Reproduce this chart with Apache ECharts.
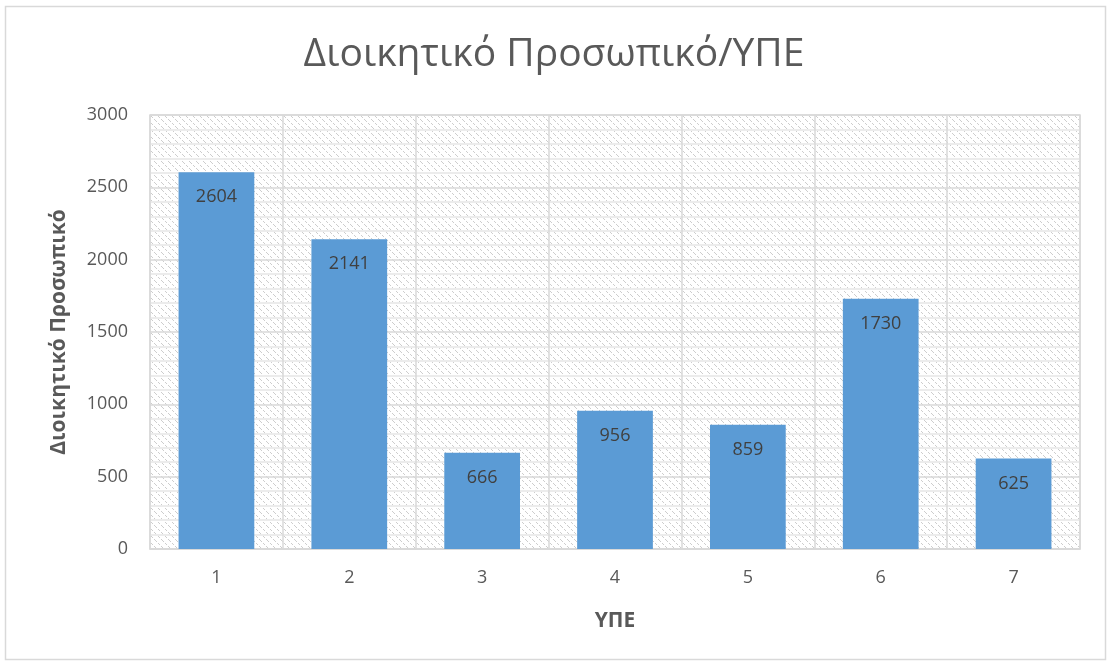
<!DOCTYPE html>
<html>
<head>
<meta charset="utf-8">
<script src="https://cdn.jsdelivr.net/npm/echarts@6/dist/echarts.min.js"></script>
<style>
  * { margin: 0; padding: 0; }
  body { background: #fff; }
</style>
</head>
<body>
<div id="main" style="width: 1108px; height: 663px;"></div>
<script>
// data
var categories = ['1', '2', '3', '4', '5', '6', '7'];
var staff = [2604, 2141, 666, 956, 859, 1730, 625];

// dotted diagonal hatch for the plot background
function hatch() {
  var c = document.createElement('canvas');
  c.width = 7; c.height = 7;
  var ctx = c.getContext('2d');
  ctx.fillStyle = '#ffffff';
  ctx.fillRect(0, 0, 7, 7);
  ctx.fillStyle = '#cdcdcd';
  for (var i = 0; i < 7; i++) {
    if (i === 3 || i === 6) continue;
    ctx.fillRect(i, i, 1, 1);
  }
  return c;
}

var chart = echarts.init(document.getElementById('main'));
var font = '"Open Sans", "Liberation Sans", sans-serif';
chart.setOption({
  animation: false,
  textStyle: { fontFamily: font },
  title: {
    text: 'Διοικητικό Προσωπικό/ΥΠΕ',
    left: 'center',
    top: 30,
    textStyle: { fontSize: 39, fontWeight: 'normal', color: '#595959', fontFamily: font }
  },
  graphic: [{
    type: 'rect',
    shape: { x: 5.5, y: 6.5, width: 1100, height: 653 },
    style: { fill: 'none', stroke: '#d9d9d9', lineWidth: 1.5 },
    silent: true
  }],
  grid: {
    left: 150, right: 28, top: 115, bottom: 114,
    show: true,
    backgroundColor: { image: hatch(), repeat: 'repeat' },
    borderColor: '#d9d9d9',
    borderWidth: 1.5
  },
  xAxis: {
    type: 'category',
    data: categories,
    name: 'ΥΠΕ',
    nameLocation: 'middle',
    nameGap: 62,
    nameTextStyle: { fontSize: 21, fontWeight: 'bold', color: '#595959' },
    axisLine: { lineStyle: { color: '#d9d9d9', width: 1.5 } },
    axisTick: { show: false },
    axisLabel: { fontSize: 18, color: '#595959', margin: 20 },
    splitLine: { show: true, lineStyle: { color: '#d9d9d9', width: 1.5 } }
  },
  yAxis: {
    type: 'value',
    min: 0, max: 3000, interval: 500,
    name: 'Διοικητικό Προσωπικό',
    nameLocation: 'middle',
    nameGap: 80,
    nameTextStyle: { fontSize: 21, fontWeight: 'bold', color: '#595959' },
    axisLine: { show: false },
    axisTick: { show: false },
    axisLabel: {
      fontSize: 18, color: '#595959', margin: 22,
      formatter: function (v) { return String(v); }
    },
    splitLine: { lineStyle: { color: '#d9d9d9', width: 1.5 } },
    minorTick: { show: false, splitNumber: 5 },
    minorSplitLine: { show: true, lineStyle: { color: '#ececec', width: 2 } }
  },
  series: [{
    type: 'bar',
    data: staff,
    barCategoryGap: '43%',
    itemStyle: { color: '#5b9bd5' },
    label: {
      show: true,
      position: 'insideTop',
      distance: 16,
      fontSize: 18,
      color: '#404040'
    }
  }]
});
</script>
</body>
</html>
